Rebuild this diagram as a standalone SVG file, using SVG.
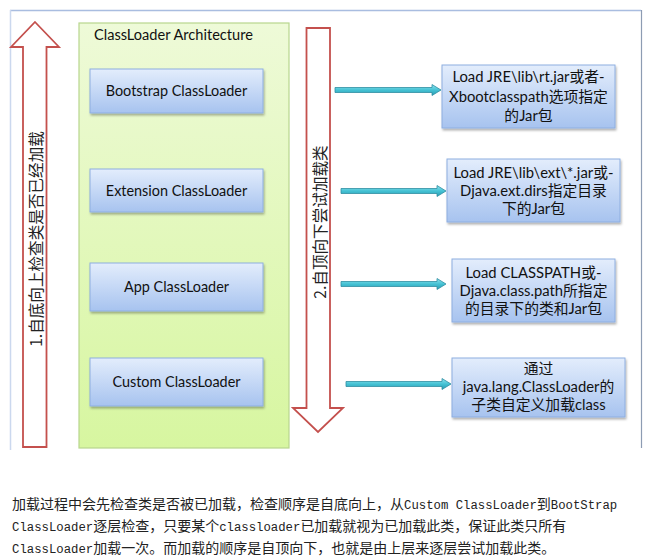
<svg xmlns="http://www.w3.org/2000/svg" width="660" height="558" viewBox="0 0 660 558">
<defs>
<linearGradient id="gBlue" x1="0" y1="0" x2="0" y2="1">
<stop offset="0" stop-color="#e3edfc"/>
<stop offset="1" stop-color="#a7c3ef"/>
</linearGradient>
<linearGradient id="gGreen" x1="0" y1="0" x2="0" y2="1">
<stop offset="0" stop-color="#eefad8"/>
<stop offset="1" stop-color="#d7f6a0"/>
</linearGradient>
<linearGradient id="gCyan" x1="0" y1="0" x2="0" y2="1">
<stop offset="0" stop-color="#8fe3ee"/>
<stop offset="0.5" stop-color="#45c2d4"/>
<stop offset="1" stop-color="#2a9db2"/>
</linearGradient>
<filter id="sh" x="-10%" y="-10%" width="125%" height="135%">
<feDropShadow dx="1" dy="2" stdDeviation="1.2" flood-color="#000" flood-opacity="0.3"/>
</filter>
</defs>
<style>
.box{fill:url(#gBlue);stroke:#8eaee0;stroke-width:1;filter:url(#sh)}
.lbl{font-family:Lato,"Noto Sans CJK SC",sans-serif;font-size:14.4px;fill:#111;text-anchor:middle}
.rl{font-size:14.8px}
.ttl{font-family:Lato,"Noto Sans CJK SC",sans-serif;font-size:14.6px;fill:#111}
.red{fill:#fff;stroke:#c4504d;stroke-width:1.8;stroke-linejoin:miter}
.vt{font-family:"Noto Sans CJK SC",sans-serif;font-size:15.6px;fill:#222;text-anchor:middle;dominant-baseline:central}
.con{fill:url(#gCyan);stroke:#2f8ea2;stroke-width:0.8}
.cap{font-family:"Noto Sans CJK SC",sans-serif;font-size:14px;fill:#222}
.mono{font-family:"Liberation Mono",monospace;font-size:12.3px}
</style>
<rect width="660" height="558" fill="#fff"/>
<g id="frame" fill="none">
<line x1="10" y1="10.5" x2="641" y2="10.5" stroke="#a9bde0" stroke-width="1.5"/>
<line x1="10.5" y1="10" x2="10.5" y2="450" stroke="#cbd8ee" stroke-width="1.5"/>
<line x1="641.5" y1="10" x2="641.5" y2="448" stroke="#8d9cb3" stroke-width="1.2"/>
</g>
<g id="up-arrow">
<polygon class="red" points="35,22 59,47 46.5,47 46.5,447 23,447 23,47 11,47"/>
<text class="vt" transform="translate(35,239) rotate(-90)">1.自底向上检查类是否已经加载</text>
</g>
<g id="architecture">
<rect x="79" y="23" width="210" height="425" fill="url(#gGreen)" stroke="#b8d68e" stroke-width="1.2"/>
<text class="ttl" x="94" y="40">ClassLoader Architecture</text>
</g>
<g id="bootstrap">
<rect class="box" x="90" y="69" width="173" height="44"/>
<text class="lbl" x="176.5" y="96">Bootstrap ClassLoader</text>
</g>
<g id="extension">
<rect class="box" x="90" y="169" width="173" height="43"/>
<text class="lbl" x="176.5" y="195.5">Extension ClassLoader</text>
</g>
<g id="app">
<rect class="box" x="90" y="263" width="173" height="48"/>
<text class="lbl" x="176.5" y="292">App ClassLoader</text>
</g>
<g id="custom">
<rect class="box" x="90" y="358" width="173" height="48"/>
<text class="lbl" x="176.5" y="387">Custom ClassLoader</text>
</g>
<g id="down-arrow">
<polygon class="red" points="306.5,28 330,28 330,408 343,408 318,432 293,408 306.5,408"/>
<text class="vt" transform="translate(319,222) rotate(-90)">2.自顶向下尝试加载类</text>
</g>
<g id="connectors">
<path class="con" d="M335,87.5 H432 V84.5 L441,90 L432,95.5 V92.5 H335 Z"/>
<path class="con" d="M341,188.5 H437 V185.5 L446,191 L437,196.5 V193.5 H341 Z"/>
<path class="con" d="M341,281.5 H437 V278.5 L446,284 L437,289.5 V286.5 H341 Z"/>
<path class="con" d="M346,381.5 H442 V378.5 L451,384 L442,389.5 V386.5 H346 Z"/>
</g>
<g id="rt-jar">
<rect class="box" x="442" y="65" width="173" height="63"/>
<text class="lbl rl" x="528.5" y="82">Load JRE\lib\rt.jar或者-</text>
<text class="lbl rl" x="528.5" y="102">Xbootclasspath选项指定</text>
<text class="lbl rl" x="528.5" y="121">的Jar包</text>
</g>
<g id="ext-jar">
<rect class="box" x="447" y="159" width="173" height="63"/>
<text class="lbl rl" x="533.5" y="178">Load JRE\lib\ext\*.jar或-</text>
<text class="lbl rl" x="533.5" y="196">Djava.ext.dirs指定目录</text>
<text class="lbl rl" x="533.5" y="214">下的Jar包</text>
</g>
<g id="classpath">
<rect class="box" x="452" y="259" width="163" height="63"/>
<text class="lbl rl" x="533.5" y="278">Load CLASSPATH或-</text>
<text class="lbl rl" x="533.5" y="296">Djava.class.path所指定</text>
<text class="lbl rl" x="533.5" y="314">的目录下的类和Jar包</text>
</g>
<g id="custom-class">
<rect class="box" x="452" y="358" width="173" height="59"/>
<text class="lbl rl" x="538.5" y="374">通过</text>
<text class="lbl rl" x="538.5" y="392">java.lang.ClassLoader的</text>
<text class="lbl rl" x="538.5" y="410">子类自定义加载class</text>
</g>
<g id="caption">
<text class="cap" x="12" y="509">加载过程中会先检查类是否被已加载，检查顺序是自底向上，从<tspan class="mono">Custom ClassLoader</tspan>到<tspan class="mono">BootStrap</tspan></text>
<text class="cap" x="12" y="531"><tspan class="mono">ClassLoader</tspan>逐层检查，只要某个<tspan class="mono">classloader</tspan>已加载就视为已加载此类，保证此类只所有</text>
<text class="cap" x="12" y="553"><tspan class="mono">ClassLoader</tspan>加载一次。而加载的顺序是自顶向下，也就是由上层来逐层尝试加载此类。</text>
</g>
</svg>
